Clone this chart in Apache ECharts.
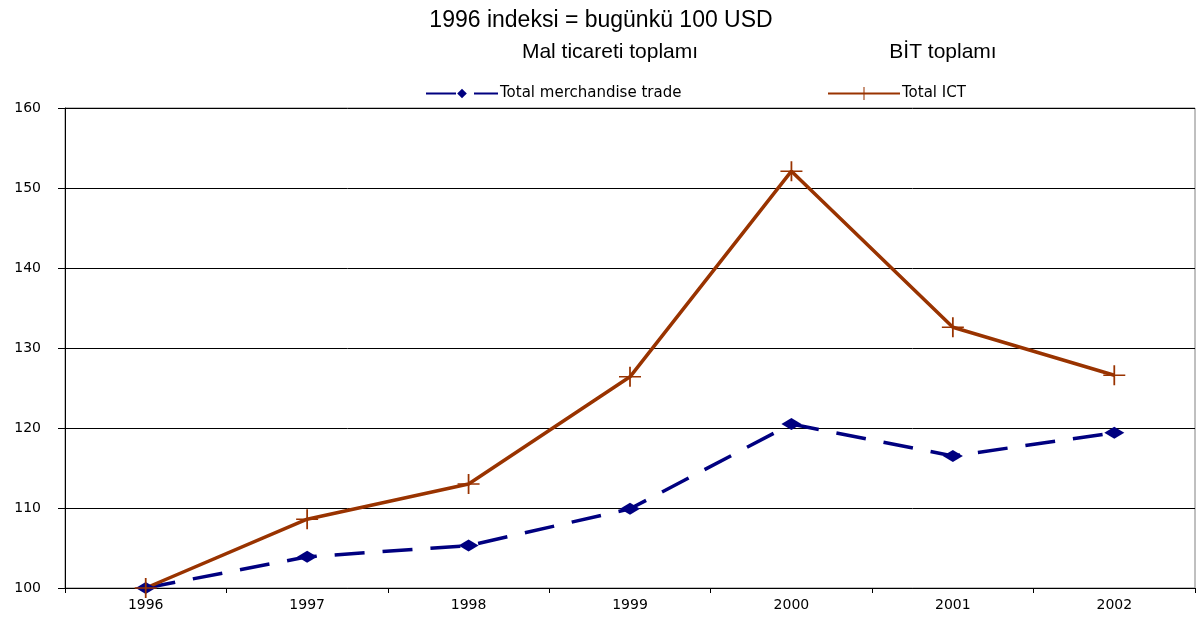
<!DOCTYPE html>
<html>
<head>
<meta charset="utf-8">
<script src="https://cdn.jsdelivr.net/npm/echarts@6/dist/echarts.min.js"></script>
<style>
html, body { margin: 0; padding: 0; background: #fff; }
#chart { width: 1198px; height: 617px; }
</style>
</head>
<body>
<div id="chart"></div>
<script>
// data
const years = ['1996', '1997', '1998', '1999', '2000', '2001', '2002'];
const merchandise = [100, 103.9, 105.3, 109.9, 120.5, 116.5, 119.4];
const ict = [100, 108.6, 113.0, 126.4, 152.1, 132.6, 126.6];
const yTicks = [100, 110, 120, 130, 140, 150, 160];

const font = 'Liberation Sans, Arial, sans-serif';
const wide = 'DejaVu Sans, Verdana, sans-serif';
const plus = 'path://M0,4.6H10V5.4H0Z M4.6,0H5.4V10H4.6Z';

let myChart = echarts.init(document.getElementById('chart'));
myChart.setOption({
    animation: false,
    title: [
        { text: '1996 indeksi = bugünkü 100 USD', left: 596, top: 4, textAlign: 'center',
          textStyle: { fontFamily: font, fontSize: 23, fontWeight: 'normal', color: '#000' } },
        { text: 'Mal ticareti toplamı', left: 605, top: 37, textAlign: 'center',
          textStyle: { fontFamily: font, fontSize: 21, fontWeight: 'normal', color: '#000' } },
        { text: 'BİT toplamı', left: 938, top: 37, textAlign: 'center',
          textStyle: { fontFamily: font, fontSize: 21, fontWeight: 'normal', color: '#000' } }
    ],
    legend: [
        { data: ['Total merchandise trade'], left: 420, top: 81, itemWidth: 72, itemHeight: 12, itemGap: 4,
          textStyle: { fontFamily: wide, fontSize: 15, color: '#000', padding: [0, 0, 0, -3] } },
        { data: ['Total ICT'], left: 822, top: 81, itemWidth: 72, itemHeight: 16, itemGap: 4,
          textStyle: { fontFamily: wide, fontSize: 15, color: '#000', padding: [0, 0, 0, -3] } }
    ],
    grid: {
        left: 65, right: 3, top: 108, bottom: 29,
        show: true, borderColor: '#808080', borderWidth: 1
    },
    xAxis: {
        type: 'category',
        data: years,
        boundaryGap: true,
        axisLine: { lineStyle: { color: '#000', width: 1 } },
        axisTick: { show: true, interval: 0, length: 5, lineStyle: { color: '#000' } },
        axisLabel: { fontFamily: wide, fontSize: 14, color: '#000', margin: 10 }
    },
    yAxis: {
        type: 'value',
        min: 100, max: 160, interval: 10,
        axisLine: { show: true, lineStyle: { color: '#000', width: 1 } },
        axisTick: { show: true, length: 7, lineStyle: { color: '#000' } },
        axisLabel: {
            fontFamily: wide, fontSize: 14, color: '#000', margin: 24,
            formatter: v => yTicks.includes(v) ? String(v) : ''
        },
        splitLine: { show: true, lineStyle: { color: '#000', width: 1 } }
    },
    series: [
        {
            name: 'Total merchandise trade',
            type: 'line',
            data: merchandise,
            symbol: 'diamond',
            symbolSize: [20, 12],
            color: '#000080',
            lineStyle: { color: '#000080', width: 3.5, type: [30, 18] },
            itemStyle: { color: '#000080' }
        },
        {
            name: 'Total ICT',
            type: 'line',
            data: ict,
            symbol: plus,
            symbolSize: [22, 20],
            color: '#993300',
            lineStyle: { color: '#993300', width: 3.5 },
            itemStyle: { color: '#993300' }
        }
    ]
});
</script>
</body>
</html>
